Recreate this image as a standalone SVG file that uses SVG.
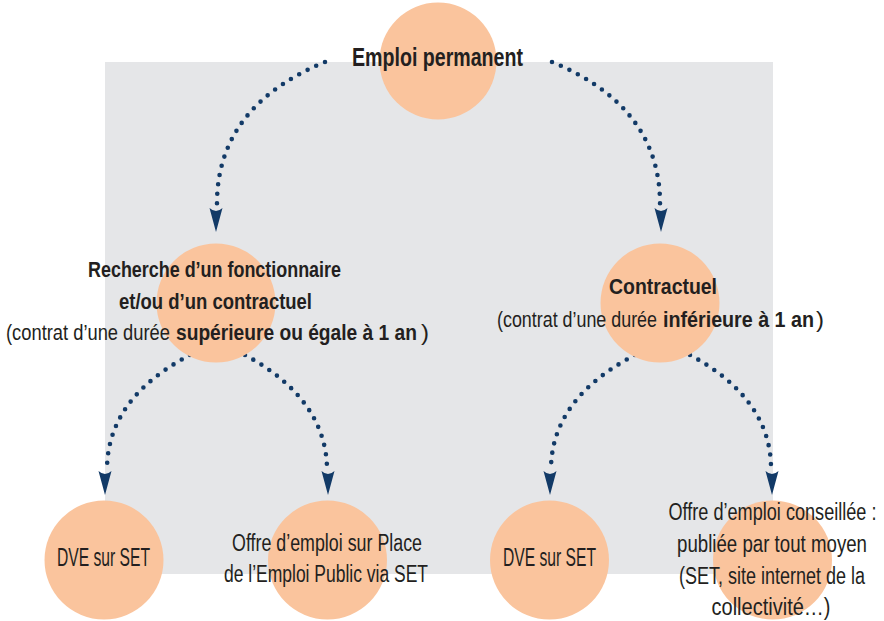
<svg xmlns="http://www.w3.org/2000/svg" width="884" height="621" viewBox="0 0 884 621">
<style>
.node{fill:#fac49d}
.t{font-family:"Liberation Sans",Arial,sans-serif;fill:#231f20}
.c{text-anchor:middle}
.b{font-weight:bold}
.big{font-size:19.2px}
.mid{font-size:17.3px}
.sm{font-size:18.1px}
.dots{fill:none;stroke:#123a67;stroke-width:4.6;stroke-linecap:round;stroke-dasharray:0 9.5}
.head{fill:#123a67}
</style>
<defs>
<path id="ah" d="M0,0 L-6.5,-24 Q0,-18 6.5,-24 Z"/>
</defs>
<rect x="105" y="62" width="668" height="512" fill="#e5e6e8"/>
<g id="connectors">
<path class="dots" d="M325,62 C262,88 216,132 217,206"/>
<use href="#ah" class="head" x="216" y="232"/>
<path class="dots" d="M552,62 C615,88 661,132 660,206"/>
<use href="#ah" class="head" x="661" y="232"/>
<path class="dots" d="M190,355 C150,376 108,410 107,468"/>
<use href="#ah" class="head" x="105" y="495"/>
<path class="dots" d="M245,355 C288,378 326,414 327,468"/>
<use href="#ah" class="head" x="328" y="495"/>
<path class="dots" d="M635,355 C595,376 552,410 551,468"/>
<use href="#ah" class="head" x="550" y="495"/>
<path class="dots" d="M690,355 C733,378 771,414 771,468"/>
<use href="#ah" class="head" x="772" y="495"/>
</g>
<g id="n-top">
<circle class="node" cx="438" cy="61" r="58.5"/>
<text class="t c b big" transform="translate(437.5,66) scale(1,1.3)" textLength="171" lengthAdjust="spacingAndGlyphs">Emploi permanent</text>
</g>
<g id="n-left">
<circle class="node" cx="216" cy="303" r="59.5"/>
<text class="t c b mid" transform="translate(214.5,277) scale(1,1.3)" textLength="253" lengthAdjust="spacingAndGlyphs">Recherche d’un fonctionnaire</text>
<text class="t c b mid" transform="translate(215.5,309) scale(1,1.3)" textLength="193" lengthAdjust="spacingAndGlyphs">et/ou d’un contractuel</text>
<text class="t mid" transform="translate(0,340) scale(1,1.3)"><tspan x="6" textLength="164" lengthAdjust="spacingAndGlyphs">(contrat d’une durée</tspan><tspan class="b" x="176" textLength="241" lengthAdjust="spacingAndGlyphs">supérieure ou égale à 1 an</tspan><tspan x="421" textLength="8" lengthAdjust="spacingAndGlyphs">)</tspan></text>
</g>
<g id="n-right">
<circle class="node" cx="660" cy="303" r="59.5"/>
<text class="t c b mid" transform="translate(663,294) scale(1,1.3)" textLength="108" lengthAdjust="spacingAndGlyphs">Contractuel</text>
<text class="t mid" transform="translate(0,327) scale(1,1.3)"><tspan x="497" textLength="160" lengthAdjust="spacingAndGlyphs">(contrat d’une durée</tspan><tspan class="b" x="663" textLength="151" lengthAdjust="spacingAndGlyphs">inférieure à 1 an</tspan><tspan x="816" textLength="8" lengthAdjust="spacingAndGlyphs">)</tspan></text>
</g>
<g id="n-b1">
<circle class="node" cx="104" cy="560" r="59.5"/>
<text class="t c big" transform="translate(103.5,566) scale(1,1.3)" textLength="93" lengthAdjust="spacingAndGlyphs">DVE sur SET</text>
</g>
<g id="n-b2">
<circle class="node" cx="327.5" cy="560" r="59.5"/>
<text class="t c sm" transform="translate(327,551) scale(1,1.3)" textLength="190" lengthAdjust="spacingAndGlyphs">Offre d’emploi sur Place</text>
<text class="t c sm" transform="translate(326,582) scale(1,1.3)" textLength="204" lengthAdjust="spacingAndGlyphs">de l’Emploi Public via SET</text>
</g>
<g id="n-b3">
<circle class="node" cx="549.5" cy="560" r="59.5"/>
<text class="t c big" transform="translate(549.5,566) scale(1,1.3)" textLength="93" lengthAdjust="spacingAndGlyphs">DVE sur SET</text>
</g>
<g id="n-b4">
<circle class="node" cx="772.5" cy="560" r="59.5"/>
<text class="t c sm" transform="translate(772.5,520) scale(1,1.3)" textLength="208" lengthAdjust="spacingAndGlyphs">Offre d’emploi conseillée :</text>
<text class="t c sm" transform="translate(772,552) scale(1,1.3)" textLength="190" lengthAdjust="spacingAndGlyphs">publiée par tout moyen</text>
<text class="t c sm" transform="translate(772,584) scale(1,1.3)" textLength="186" lengthAdjust="spacingAndGlyphs">(SET, site internet de la</text>
<text class="t c sm" transform="translate(771,615) scale(1,1.3)" textLength="119" lengthAdjust="spacingAndGlyphs">collectivité…)</text>
</g>
</svg>
